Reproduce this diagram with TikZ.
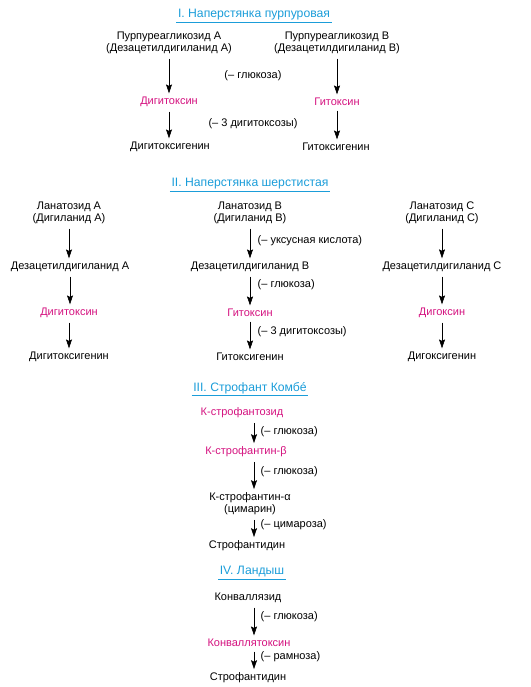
\documentclass[tikz,border=0pt]{standalone}
\usepackage{fontspec}
\setmainfont{Liberation Sans}
\usetikzlibrary{arrows.meta}

\definecolor{titleblue}{HTML}{1B9DD9}
\definecolor{glyco}{HTML}{D4127F}

\begin{document}
\begin{tikzpicture}[x=1pt, y=-1pt,
	every node/.style={font=\fontsize{11}{12}\selectfont, inner sep=1.5pt, align=center},
	title/.style={text=titleblue, font=\fontsize{12.2}{14}\selectfont},
	uline/.style={titleblue, line width=0.8pt},
	active/.style={text=glyco},
	loss/.style={anchor=west},
	arr/.style={-{Stealth[length=9pt,width=6pt,inset=1.5pt]}, line width=0.6pt, shorten <=3pt, shorten >=2pt}]

	\useasboundingbox (0,0) rectangle (530,687);

	% I
	\node[title] (t1) at (254,15) {I. Наперстянка пурпуровая};
	\draw[uline] (t1.south west) -- (t1.south east);
	\node (pA) at (169,43) {Пурпуреагликозид А\\(Дезацетилдигиланид А)};
	\node (pB) at (337,43) {Пурпуреагликозид В\\(Дезацетилдигиланид В)};
	\node[active] (dgt) at (169,102) {Дигитоксин};
	\node[active] (gtx) at (337,102) {Гитоксин};
	\node (dgn) at (170,147) {Дигитоксигенин};
	\node (gtn) at (336,147) {Гитоксигенин};
	\node (l1) at (253,76) {(– глюкоза)};
	\node (l2) at (253,124) {(– 3 дигитоксозы)};
	\draw[arr] (pA.south) -- (pA.south |- dgt.north);
	\draw[arr] (pB.south) -- (pB.south |- gtx.north);
	\draw[arr] (dgt.south) -- (dgt.south |- dgn.north);
	\draw[arr] (gtx.south) -- (gtx.south |- gtn.north);

	% II
	\node[title] (t2) at (250,184) {II. Наперстянка шерстистая};
	\draw[uline] (t2.south west) -- (t2.south east);
	\node (lA) at (69,213) {Ланатозид А\\(Дигиланид А)};
	\node (lB) at (250,213) {Ланатозид В\\(Дигиланид В)};
	\node (lC) at (442,213) {Ланатозид С\\(Дигиланид С)};
	\node (dA) at (70,267) {Дезацетилдигиланид А};
	\node (dB) at (250,267) {Дезацетилдигиланид В};
	\node (dC) at (442,267) {Дезацетилдигиланид С};
	\node[active] (gA) at (69,313) {Дигитоксин};
	\node[active] (gB) at (250,313) {Гитоксин};
	\node[active] (gC) at (442,313) {Дигоксин};
	\node (nA) at (69,357) {Дигитоксигенин};
	\node (nB) at (250,357) {Гитоксигенин};
	\node (nC) at (442,357) {Дигоксигенин};
	\node[loss] (l3) at (256,241) {(– уксусная кислота)};
	\node[loss] (l4) at (256,285) {(– глюкоза)};
	\node[loss] (l5) at (256,332) {(– 3 дигитоксозы)};
	\foreach \c in {A,B,C} {
		\draw[arr] (l\c.south) -- (l\c.south |- d\c.north);
		\draw[arr] (d\c.south) -- (d\c.south |- g\c.north);
		\draw[arr] (g\c.south) -- (g\c.south |- n\c.north);
	}

	% III
	\node[title] (t3) at (250,388) {III. Строфант Комбé};
	\draw[uline] (t3.south west) -- (t3.south east);
	\coordinate (axis) at (254,0);
	\node[active] (ks) at (242,413) {К-строфантозид};
	\node[active] (kb) at (246,452) {К-строфантин-β};
	\node (ka) at (250,504) {К-строфантин-α\\(цимарин)};
	\node (sd) at (247,546) {Строфантидин};
	\node[loss] (l6) at (259,432) {(– глюкоза)};
	\node[loss] (l7) at (259,472) {(– глюкоза)};
	\node[loss] (l8) at (259,525) {(– цимароза)};
	\draw[arr] (ks.south -| axis) -- (kb.north -| axis);
	\draw[arr] (kb.south -| axis) -- (ka.north -| axis);
	\draw[arr] (ka.south -| axis) -- (sd.north -| axis);

	% IV
	\node[title] (t4) at (252,572) {IV. Ландыш};
	\draw[uline] (t4.south west) -- (t4.south east);
	\node (kz) at (248,598) {Конваллязид};
	\node[active] (kt) at (249,643) {Конваллятоксин};
	\node (sd2) at (248,678) {Строфантидин};
	\node[loss] (l9) at (259,617) {(– глюкоза)};
	\node[loss] (l10) at (259,657) {(– рамноза)};
	\draw[arr] (kz.south -| axis) -- (kt.north -| axis);
	\draw[arr] (kt.south -| axis) -- (sd2.north -| axis);

\end{tikzpicture}
\end{document}
